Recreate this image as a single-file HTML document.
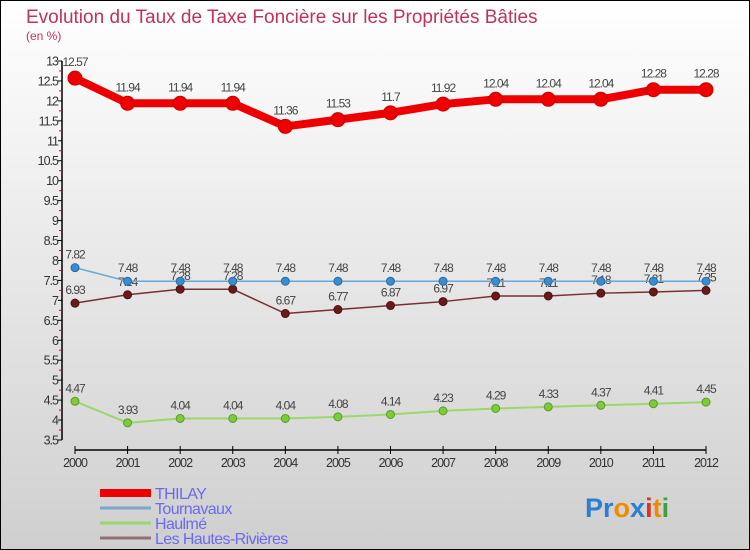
<!DOCTYPE html>
<html><head><meta charset="utf-8">
<style>
body{margin:0;}
#c{width:750px;height:550px;position:relative;overflow:hidden;}
svg text{font-family:"Liberation Sans",sans-serif;}
</style></head>
<body>
<div id="c">
<svg id="s" width="750" height="550" xmlns="http://www.w3.org/2000/svg">
<defs>
<linearGradient id="bg" x1="0" y1="0" x2="0" y2="1">
<stop offset="0" stop-color="#ffffff"/><stop offset="1" stop-color="#cfcfcf"/>
</linearGradient>
</defs>
<rect x="0.5" y="0.5" width="749" height="549" fill="url(#bg)" stroke="#000"/>
<text x="26" y="23" font-size="19" fill="#c2315e">Evolution du Taux de Taxe Foncière sur les Propriétés Bâties</text>
<text x="26" y="40" font-size="12" fill="#c2315e">(en %)</text>
<g id="axes"></g>
<g id="series"></g>
<g id="legend"></g>
<text x="585" y="517" font-size="27" font-weight="bold"><tspan fill="#2a7fd4">Pr</tspan><tspan fill="#f08a00">o</tspan><tspan fill="#2a7fd4">x</tspan><tspan fill="#e03020">i</tspan><tspan fill="#f08a00">t</tspan><tspan fill="#40a040">i</tspan></text>
</svg>
</div>
<script>
const years=["2000","2001","2002","2003","2004","2005","2006","2007","2008","2009","2010","2011","2012"];
const thilay=[12.57,11.94,11.94,11.94,11.36,11.53,11.7,11.92,12.04,12.04,12.04,12.28,12.28];
const tournavaux=[7.82,7.48,7.48,7.48,7.48,7.48,7.48,7.48,7.48,7.48,7.48,7.48,7.48];
const haulme=[4.47,3.93,4.04,4.04,4.04,4.08,4.14,4.23,4.29,4.33,4.37,4.41,4.45];
const hautes=[6.93,7.14,7.28,7.28,6.67,6.77,6.87,6.97,7.11,7.11,7.18,7.21,7.25];
const yTicks=[3.5,4,4.5,5,5.5,6,6.5,7,7.5,8,8.5,9,9.5,10,10.5,11,11.5,12,12.5,13];
const NS="http://www.w3.org/2000/svg";
const yMin=3.5,yMax=13,yTop=61,yBot=440;
function yS(v){return yBot-(v-yMin)/(yMax-yMin)*(yBot-yTop);}
function xS(i){return 75+i*(706-75)/(years.length-1);}
function mk(t,a,p){const e=document.createElementNS(NS,t);for(const k in a)e.setAttribute(k,a[k]);p.appendChild(e);return e;}
const ax=document.getElementById('axes');
let l=mk('line',{x1:62,y1:yTop,x2:62,y2:yBot,stroke:'#000','stroke-width':1.5},ax);


yTicks.forEach(v=>{
  const y=yS(v);
  mk('line',{x1:58,y1:y,x2:62,y2:y,stroke:'#000'},ax);
  const t=mk('text',{x:58,y:y+4.5,'font-size':12.5,fill:'#333','text-anchor':'end','letter-spacing':'-1'},ax);
  t.textContent=String(v);
  
  
  if(v<yMax){const ym=yS(v+0.25);mk('line',{x1:59,y1:ym,x2:62,y2:ym,stroke:'#e00000'},ax);}
});
l=mk('line',{x1:75,y1:450,x2:706,y2:450,stroke:'#000','stroke-width':1.5},ax);


years.forEach((yr,i)=>{
  const x=xS(i);
  mk('line',{x1:x,y1:446,x2:x,y2:454,stroke:'#000'},ax);
  const t=mk('text',{x:x,y:467,'font-size':12.5,fill:'#333','text-anchor':'middle','letter-spacing':'-1'},ax);
  t.textContent=yr;
  
  
});
const sg=document.getElementById('series');
function draw(vals,name,color,w,r,dot,dotStroke){
  const g=mk('g',{},sg);
  
  
  const pts=vals.map((v,i)=>xS(i)+','+yS(v)).join(' ');
  const pl=mk('polyline',{points:pts,fill:'none',stroke:color,'stroke-width':w,'stroke-linejoin':'round'},g);
  
  
  vals.forEach((v,i)=>{
    const c=mk('circle',{cx:xS(i),cy:yS(v),r:r,fill:dot,stroke:dotStroke,'stroke-width':1},g);
    
    
    const t=mk('text',{x:xS(i),y:yS(v)-r-5,'font-size':12,fill:'#444','text-anchor':'middle','letter-spacing':'-1'},g);
    t.textContent=String(v);
    
    
  });
}
draw(haulme,'haulme','#9ad86a',2,4,'#7ccc3a','#5a9a2a');
draw(hautes,'hautes-rivieres','#7a3030',1.5,4,'#6a1a1a','#501010');
draw(tournavaux,'tournavaux','#6aa8d8',1.5,4,'#3a8ed0','#2a6aa0');
draw(thilay,'thilay','#ee0000',8,7,'#ee0000','#cc0000');
const lg=document.getElementById('legend');
const lItems=[["THILAY","#ee0000",8],["Tournavaux","#7aa8cc",3],["Haulmé","#9ad86a",3],["Les Hautes-Rivières","#907070",3]];
lItems.forEach((it,i)=>{
  const y=493+i*15;
  const g=mk('g',{},lg);
  
  
  mk('line',{x1:100,y1:y,x2:151,y2:y,stroke:it[1],'stroke-width':it[2]},g);
  const t=mk('text',{x:155,y:y+6,'font-size':16,fill:'#6a6af0','letter-spacing':'-0.6'},g);
  t.textContent=it[0];
});
</script>
</body></html>
